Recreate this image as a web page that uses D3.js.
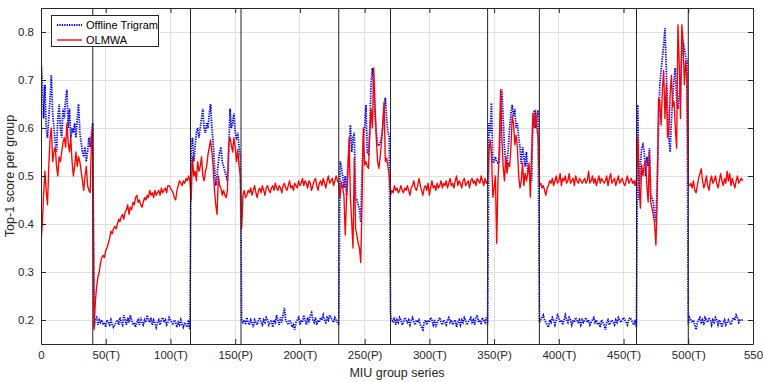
<!DOCTYPE html>
<html><head><meta charset="utf-8">
<script src="https://cdn.jsdelivr.net/npm/d3@7"></script>
<style>body{margin:0;background:#fff}svg{display:block}</style>
</head><body>
<svg id="c" width="763" height="382"></svg>
<script>
const xTicks = [0,50,100,150,200,250,300,350,400,450,500,550];
const xTickLabels = ["0","50(T)","100(T)","150(P)","200(T)","250(P)","300(T)","350(P)","400(T)","450(T)","500(T)","550"];
const yTicks = [0.2,0.3,0.4,0.5,0.6,0.7,0.8];
const boundaries = [40,115.5,154.5,230,270,345,385,460,500];
const segmentStarts = [0,41,116,155,231,270,346,385,461,500];
const seriesNames = ["Offline Trigram","OLMWA"];

const offlineTrigram = [
 [0.74,0.70,0.62,0.69,0.60,0.58,0.62,0.66,0.71,0.63,0.60,0.57,0.55,0.62,0.65,0.60,0.58,0.64,0.62,0.66,0.68,0.60,0.64,0.58,0.60,0.59,0.61,0.58,0.62,0.65,0.59,0.57,0.55,0.54,0.56,0.53,0.55,0.58,0.56,0.59,0.61],
 [0.185,0.20,0.205,0.19,0.2,0.195,0.2,0.19,0.195,0.185,0.2,0.195,0.19,0.2,0.19,0.185,0.19,0.195,0.2,0.19,0.205,0.195,0.19,0.21,0.2,0.19,0.205,0.195,0.21,0.2,0.19,0.195,0.185,0.195,0.2,0.19,0.205,0.195,0.19,0.2,0.195,0.21,0.2,0.195,0.205,0.19,0.2,0.195,0.185,0.195,0.2,0.19,0.2,0.205,0.195,0.2,0.19,0.195,0.205,0.2,0.195,0.19,0.2,0.195,0.185,0.195,0.19,0.2,0.19,0.185,0.195,0.19,0.185,0.2,0.18],
 [0.56,0.58,0.53,0.56,0.59,0.60,0.58,0.60,0.62,0.64,0.60,0.59,0.61,0.60,0.63,0.65,0.60,0.57,0.52,0.48,0.50,0.53,0.55,0.56,0.53,0.52,0.51,0.50,0.49,0.55,0.64,0.60,0.61,0.63,0.59,0.58,0.59,0.56,0.54],
 [0.2,0.195,0.2,0.19,0.205,0.195,0.19,0.2,0.195,0.185,0.2,0.195,0.19,0.2,0.205,0.195,0.19,0.2,0.195,0.205,0.2,0.19,0.195,0.2,0.185,0.2,0.195,0.21,0.2,0.19,0.205,0.195,0.21,0.225,0.2,0.195,0.19,0.2,0.195,0.185,0.19,0.18,0.195,0.2,0.205,0.19,0.2,0.195,0.21,0.2,0.19,0.205,0.195,0.21,0.215,0.2,0.195,0.205,0.19,0.2,0.195,0.205,0.2,0.21,0.2,0.195,0.205,0.2,0.21,0.205,0.2,0.195,0.205,0.2,0.195,0.19],
 [0.53,0.52,0.50,0.475,0.50,0.46,0.52,0.56,0.606,0.55,0.58,0.59,0.454,0.45,0.44,0.43,0.404,0.51,0.58,0.60,0.648,0.55,0.546,0.60,0.696,0.725,0.683,0.627,0.59,0.565,0.563,0.57,0.58,0.60,0.64,0.663,0.62,0.59,0.585],
 [0.21,0.2,0.195,0.205,0.19,0.2,0.195,0.205,0.2,0.19,0.195,0.205,0.2,0.195,0.2,0.19,0.2,0.205,0.195,0.19,0.2,0.195,0.2,0.19,0.185,0.18,0.195,0.2,0.19,0.2,0.195,0.205,0.2,0.19,0.2,0.185,0.195,0.2,0.205,0.195,0.19,0.2,0.195,0.19,0.2,0.205,0.195,0.2,0.19,0.195,0.2,0.185,0.195,0.2,0.19,0.2,0.195,0.205,0.2,0.19,0.195,0.2,0.205,0.195,0.2,0.19,0.205,0.21,0.195,0.2,0.19,0.205,0.2,0.195,0.205,0.19],
 [0.61,0.59,0.652,0.527,0.53,0.54,0.53,0.527,0.53,0.62,0.68,0.62,0.56,0.53,0.527,0.56,0.60,0.63,0.648,0.625,0.64,0.60,0.61,0.58,0.56,0.525,0.56,0.54,0.52,0.55,0.506,0.52,0.50,0.49,0.623,0.637,0.60,0.623,0.637],
 [0.195,0.2,0.205,0.21,0.2,0.195,0.19,0.185,0.2,0.195,0.205,0.2,0.19,0.2,0.21,0.205,0.195,0.2,0.19,0.2,0.21,0.2,0.195,0.205,0.2,0.19,0.2,0.195,0.205,0.2,0.195,0.2,0.19,0.2,0.195,0.2,0.205,0.195,0.2,0.19,0.195,0.2,0.205,0.195,0.2,0.19,0.195,0.185,0.2,0.195,0.19,0.18,0.195,0.2,0.19,0.195,0.2,0.195,0.19,0.2,0.195,0.205,0.2,0.195,0.2,0.205,0.2,0.195,0.19,0.2,0.205,0.2,0.195,0.19,0.2,0.185],
 [0.648,0.45,0.523,0.558,0.565,0.55,0.50,0.54,0.52,0.558,0.46,0.455,0.446,0.42,0.404,0.487,0.60,0.69,0.72,0.746,0.773,0.808,0.725,0.63,0.58,0.55,0.62,0.66,0.70,0.725,0.66,0.64,0.67,0.69,0.75,0.78,0.765,0.75,0.74],
 [0.19,0.205,0.2,0.195,0.2,0.19,0.18,0.195,0.2,0.205,0.195,0.2,0.19,0.205,0.2,0.195,0.205,0.2,0.19,0.2,0.195,0.205,0.2,0.19,0.2,0.195,0.185,0.195,0.2,0.19,0.195,0.2,0.195,0.19,0.2,0.205,0.2,0.21,0.205,0.195,0.2,0.2,0.2]
];

const olmwa = [
 [0.36,0.40,0.46,0.51,0.47,0.44,0.52,0.58,0.60,0.53,0.55,0.56,0.52,0.50,0.54,0.53,0.55,0.57,0.58,0.56,0.61,0.57,0.55,0.58,0.53,0.50,0.52,0.55,0.52,0.54,0.53,0.51,0.49,0.47,0.50,0.52,0.48,0.47,0.465,0.58,0.60],
 [0.18,0.24,0.27,0.29,0.30,0.32,0.33,0.335,0.33,0.345,0.35,0.36,0.37,0.385,0.38,0.39,0.395,0.39,0.40,0.41,0.405,0.415,0.42,0.41,0.425,0.43,0.44,0.42,0.435,0.43,0.445,0.44,0.455,0.46,0.445,0.45,0.44,0.435,0.445,0.455,0.45,0.46,0.455,0.47,0.46,0.465,0.455,0.47,0.46,0.465,0.47,0.46,0.475,0.465,0.47,0.475,0.465,0.48,0.48,0.475,0.47,0.465,0.455,0.45,0.47,0.48,0.49,0.485,0.48,0.49,0.485,0.495,0.49,0.50,0.49],
 [0.45,0.54,0.50,0.51,0.49,0.53,0.51,0.52,0.54,0.50,0.49,0.51,0.52,0.545,0.56,0.575,0.55,0.52,0.47,0.44,0.42,0.50,0.48,0.475,0.46,0.47,0.46,0.455,0.47,0.57,0.58,0.565,0.55,0.58,0.56,0.53,0.555,0.52,0.50],
 [0.39,0.46,0.47,0.455,0.46,0.47,0.465,0.475,0.46,0.47,0.48,0.465,0.455,0.47,0.475,0.465,0.48,0.47,0.46,0.475,0.48,0.47,0.465,0.475,0.48,0.47,0.485,0.475,0.47,0.48,0.475,0.465,0.48,0.485,0.475,0.47,0.48,0.49,0.475,0.48,0.47,0.485,0.48,0.475,0.49,0.48,0.485,0.495,0.48,0.49,0.485,0.475,0.49,0.485,0.47,0.48,0.49,0.495,0.48,0.47,0.485,0.49,0.48,0.495,0.485,0.475,0.49,0.50,0.485,0.49,0.495,0.48,0.49,0.50,0.49,0.485],
 [0.455,0.488,0.475,0.46,0.377,0.45,0.50,0.58,0.455,0.404,0.35,0.537,0.39,0.377,0.36,0.35,0.32,0.445,0.60,0.523,0.53,0.52,0.516,0.59,0.64,0.60,0.725,0.65,0.58,0.53,0.516,0.54,0.57,0.61,0.654,0.53,0.537,0.52,0.50],
 [0.46,0.47,0.465,0.48,0.47,0.475,0.465,0.47,0.48,0.47,0.465,0.475,0.47,0.48,0.47,0.46,0.475,0.48,0.49,0.475,0.47,0.48,0.495,0.48,0.47,0.46,0.475,0.48,0.47,0.485,0.46,0.475,0.49,0.475,0.48,0.47,0.485,0.475,0.48,0.49,0.475,0.485,0.48,0.49,0.475,0.485,0.495,0.48,0.485,0.475,0.49,0.50,0.48,0.49,0.485,0.475,0.49,0.495,0.48,0.485,0.49,0.475,0.49,0.495,0.485,0.49,0.48,0.495,0.49,0.485,0.50,0.49,0.48,0.495,0.485,0.49],
 [0.55,0.575,0.545,0.456,0.475,0.50,0.36,0.49,0.56,0.68,0.58,0.52,0.49,0.54,0.506,0.527,0.52,0.56,0.625,0.61,0.565,0.585,0.56,0.50,0.475,0.49,0.527,0.48,0.506,0.49,0.505,0.527,0.456,0.55,0.63,0.60,0.637,0.60,0.58],
 [0.48,0.485,0.475,0.48,0.47,0.46,0.475,0.48,0.49,0.485,0.495,0.48,0.49,0.50,0.485,0.49,0.505,0.48,0.495,0.49,0.50,0.485,0.49,0.505,0.485,0.49,0.495,0.48,0.5,0.49,0.485,0.495,0.49,0.485,0.49,0.495,0.485,0.49,0.51,0.485,0.49,0.50,0.485,0.495,0.48,0.49,0.50,0.485,0.495,0.49,0.485,0.49,0.50,0.48,0.495,0.505,0.485,0.49,0.495,0.48,0.49,0.50,0.485,0.49,0.495,0.485,0.48,0.49,0.50,0.485,0.49,0.495,0.485,0.49,0.48,0.495],
 [0.58,0.487,0.433,0.523,0.50,0.523,0.53,0.48,0.446,0.55,0.446,0.433,0.419,0.40,0.356,0.455,0.662,0.655,0.606,0.68,0.72,0.62,0.69,0.58,0.59,0.67,0.71,0.645,0.655,0.60,0.558,0.815,0.735,0.62,0.815,0.78,0.69,0.74,0.70],
 [0.48,0.48,0.485,0.475,0.49,0.47,0.465,0.48,0.495,0.505,0.515,0.49,0.475,0.485,0.50,0.48,0.47,0.49,0.50,0.485,0.49,0.50,0.485,0.475,0.49,0.505,0.49,0.48,0.495,0.485,0.51,0.49,0.505,0.48,0.495,0.485,0.475,0.49,0.50,0.485,0.49,0.495,0.49]
];

const m = {left:41, right:753, top:8, bottom:344};
const svg = d3.select("#c");
const x = d3.scaleLinear().domain([0,550]).range([m.left, m.right]);
const y = d3.scaleLinear().domain([0.15,0.85]).range([m.bottom, m.top]);
const font = "'Liberation Sans', Arial, Helvetica, sans-serif";
const axisColor = "#262626";

function toPoints(segs){
  const pts = [];
  segs.forEach((seg, k) => seg.forEach((v, j) => pts.push([segmentStarts[k] + j, v])));
  return pts;
}

// grid
const grid = svg.append("g");
grid.selectAll("line.gx").data(xTicks.slice(1,-1)).join("line")
  .attr("x1", d => x(d)).attr("x2", d => x(d)).attr("y1", m.top).attr("y2", m.bottom)
  .attr("stroke", "#e1e1e1").attr("stroke-width", 1).attr("shape-rendering","crispEdges");
grid.selectAll("line.gy").data(yTicks).join("line")
  .attr("x1", m.left).attr("x2", m.right).attr("y1", d => y(d)).attr("y2", d => y(d))
  .attr("stroke", "#e1e1e1").attr("stroke-width", 1).attr("shape-rendering","crispEdges");

// series
svg.append("clipPath").attr("id","pc").append("rect")
  .attr("x", m.left).attr("y", m.top).attr("width", m.right-m.left).attr("height", m.bottom-m.top);
const line = d3.line().x(d => x(d[0])).y(d => y(d[1]));
const plot = svg.append("g").attr("clip-path","url(#pc)");
plot.append("path").datum(toPoints(offlineTrigram)).attr("d", line)
  .attr("fill","none").attr("stroke","#0000ff").attr("stroke-width",1.8).attr("stroke-dasharray","1.3,1.1");
plot.append("path").datum(toPoints(olmwa)).attr("d", line)
  .attr("fill","none").attr("stroke","#ff0000").attr("stroke-width",1.35).attr("stroke-linejoin","round");

// boundary lines
plot.selectAll("line.b").data(boundaries).join("line")
  .attr("x1", d => x(d)).attr("x2", d => x(d)).attr("y1", m.top).attr("y2", m.bottom)
  .attr("stroke", "#222").attr("stroke-width", 1);

// axes
function styleAxis(g){
  g.selectAll("path.domain").attr("stroke", axisColor).attr("stroke-width",1);
  g.selectAll(".tick line").attr("stroke", axisColor).attr("stroke-width",1);
  g.selectAll("text").attr("fill", axisColor).style("font-family", font).style("font-size","11.5px");
}
const xb = svg.append("g").attr("transform", `translate(0,${m.bottom})`)
  .call(d3.axisBottom(x).tickValues(xTicks).tickFormat((d,i) => xTickLabels[i]).tickSizeInner(-5).tickSizeOuter(0).tickPadding(7));
styleAxis(xb);
const xt = svg.append("g").attr("transform", `translate(0,${m.top})`)
  .call(d3.axisTop(x).tickValues(xTicks).tickFormat("").tickSizeInner(-5).tickSizeOuter(0));
styleAxis(xt);
const yl = svg.append("g").attr("transform", `translate(${m.left},0)`)
  .call(d3.axisLeft(y).tickValues(yTicks).tickFormat(d3.format(".1f")).tickSizeInner(-5).tickSizeOuter(0).tickPadding(7));
styleAxis(yl);
const yr = svg.append("g").attr("transform", `translate(${m.right},0)`)
  .call(d3.axisRight(y).tickValues(yTicks).tickFormat("").tickSizeInner(-5).tickSizeOuter(0));
styleAxis(yr);

// axis labels
svg.append("text").attr("x", (m.left+m.right)/2).attr("y", 377).attr("text-anchor","middle")
  .attr("fill", axisColor).style("font-family", font).style("font-size","12.5px").text("MIU group series");
svg.append("text").attr("transform", `translate(10,${(m.top+m.bottom)/2}) rotate(-90)`).attr("text-anchor","middle")
  .attr("dy","0.35em").attr("fill", axisColor).style("font-family", font).style("font-size","12.5px").text("Top-1 score per group");

// legend
const lg = svg.append("g");
lg.append("rect").attr("x",51.5).attr("y",15.5).attr("width",107).attr("height",31)
  .attr("fill","#fff").attr("stroke",axisColor).attr("stroke-width",1);
const legendStyles = [
  {stroke:"#0000ff", w:1.8, dash:"1.3,1.1"},
  {stroke:"#ff0000", w:1.35, dash:null}
];
seriesNames.forEach((name, i) => {
  const yy = 25 + i*15;
  lg.append("line").attr("x1",57).attr("x2",82).attr("y1",yy).attr("y2",yy)
    .attr("stroke",legendStyles[i].stroke).attr("stroke-width",legendStyles[i].w)
    .attr("stroke-dasharray",legendStyles[i].dash);
  lg.append("text").attr("x",86).attr("y",yy).attr("dy","0.35em").attr("fill","#000")
    .style("font-family",font).style("font-size","11px").text(name);
});
</script>
</body></html>
